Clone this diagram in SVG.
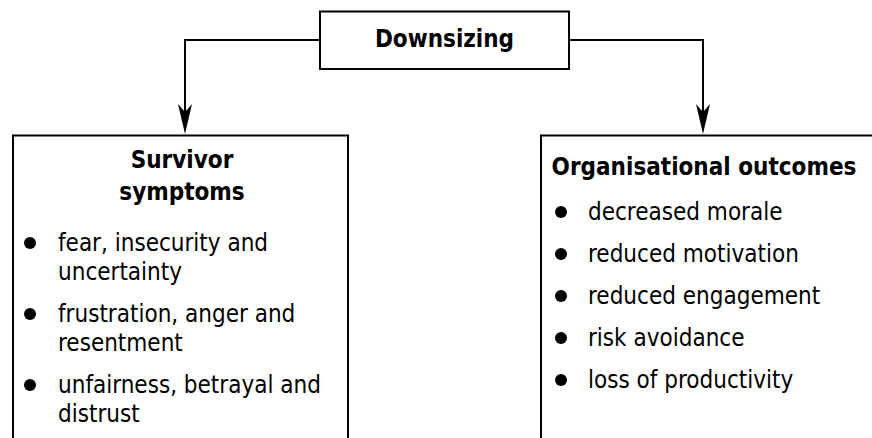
<svg xmlns="http://www.w3.org/2000/svg" width="872" height="438" viewBox="0 0 872 438">
<style>
  .box { fill: #fff; stroke: #000; stroke-width: 2; }
  .open { fill: none; stroke: #000; stroke-width: 2; }
  .conn { fill: none; stroke: #000; stroke-width: 2; }
  .head { fill: #000; stroke: none; }
  text { font-family: "DejaVu Sans Condensed", "DejaVu Sans", sans-serif; font-stretch: condensed; font-size: 24px; fill: #000; }
  .b { font-weight: bold; }
  .bullet { fill: #000; }
</style>
<rect width="872" height="438" fill="#fff"/>
<g id="connectors">
  <polyline class="conn" points="320,40 185,40 185,113"/>
  <polygon class="head" points="185,134 178,104 185,112 192,104"/>
  <polyline class="conn" points="569,40 703,40 703,113"/>
  <polygon class="head" points="703,134 696,104 703,112 710,104"/>
</g>
<g id="downsizing">
  <rect class="box" x="320" y="11.5" width="249" height="57.5"/>
  <text class="b" x="444.5" y="47" text-anchor="middle">Downsizing</text>
</g>
<g id="survivor-symptoms">
  <path class="open" d="M13,440 V135.5 H348 V440"/>
  <text class="b" x="182" y="168" text-anchor="middle">Survivor</text>
  <text class="b" x="182" y="200" text-anchor="middle">symptoms</text>
  <circle class="bullet" cx="30" cy="243" r="6"/>
  <text x="58" y="251">fear, insecurity and</text>
  <text x="58" y="280">uncertainty</text>
  <circle class="bullet" cx="30" cy="314" r="6"/>
  <text x="58" y="322">frustration, anger and</text>
  <text x="58" y="351">resentment</text>
  <circle class="bullet" cx="30" cy="385" r="6"/>
  <text x="58" y="393">unfairness, betrayal and</text>
  <text x="58" y="422">distrust</text>
</g>
<g id="organisational-outcomes">
  <path class="open" d="M541,440 V135.5 H874"/>
  <text class="b" x="704" y="175" text-anchor="middle">Organisational outcomes</text>
  <circle class="bullet" cx="561" cy="212" r="6"/>
  <text x="588" y="220">decreased morale</text>
  <circle class="bullet" cx="561" cy="254" r="6"/>
  <text x="588" y="262">reduced motivation</text>
  <circle class="bullet" cx="561" cy="296" r="6"/>
  <text x="588" y="304">reduced engagement</text>
  <circle class="bullet" cx="561" cy="338" r="6"/>
  <text x="588" y="346">risk avoidance</text>
  <circle class="bullet" cx="561" cy="380" r="6"/>
  <text x="588" y="388">loss of productivity</text>
</g>
</svg>
